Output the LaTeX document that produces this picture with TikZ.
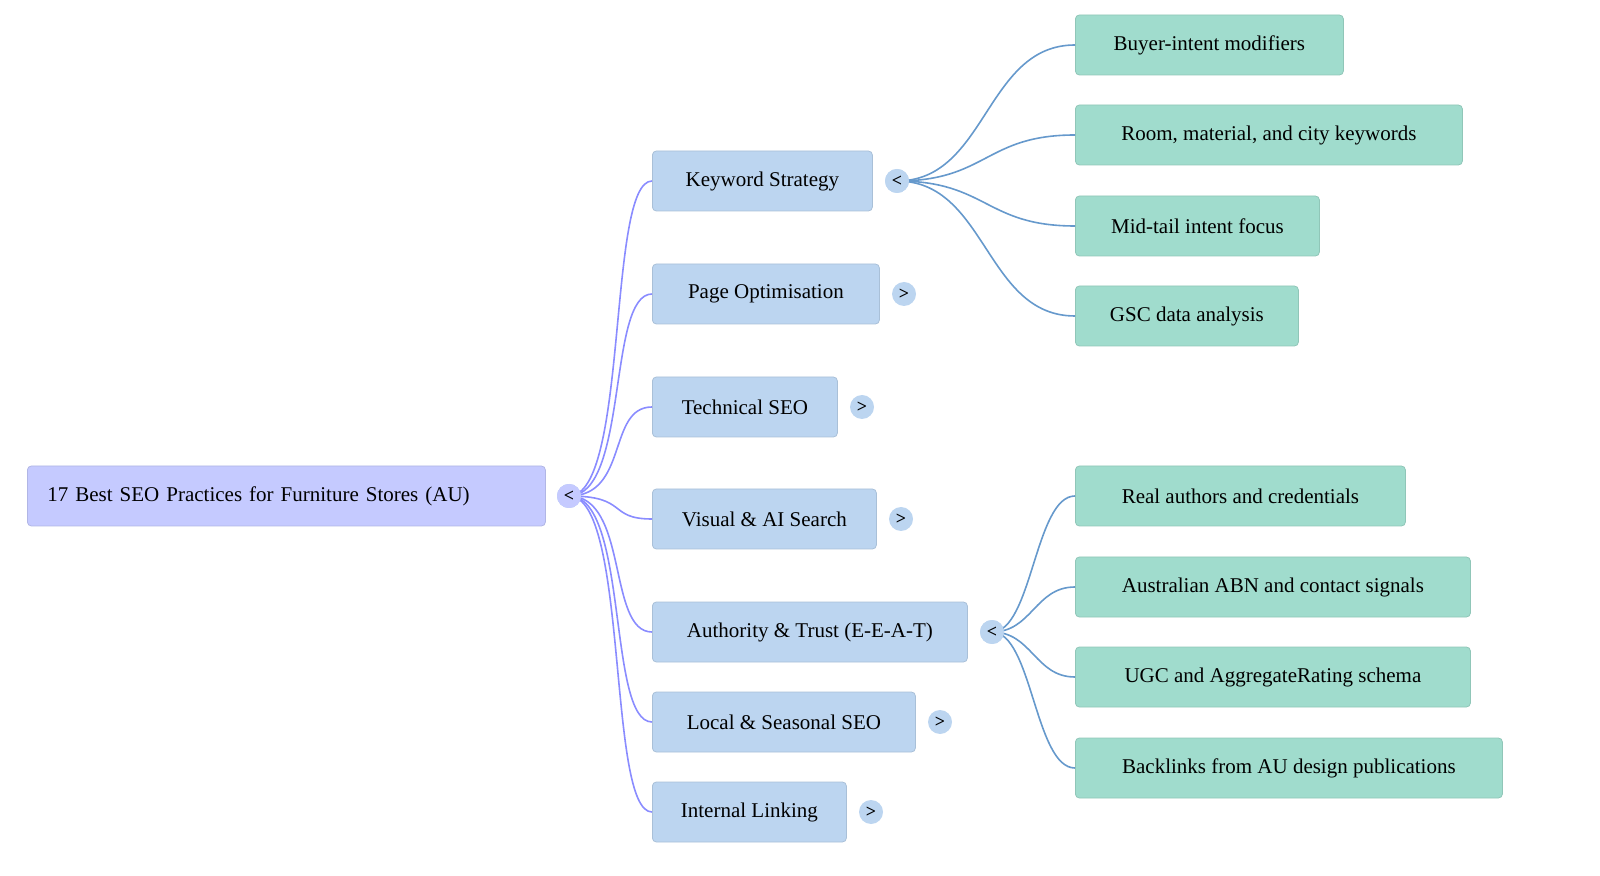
\documentclass[tikz,border=0pt]{standalone}
\usepackage{fontspec}
\setmainfont{Liberation Serif}
\usepackage{xcolor}
\usetikzlibrary{positioning}
\definecolor{rootfill}{HTML}{C5CAFF}
\definecolor{topicfill}{HTML}{BCD5F0}
\definecolor{leaffill}{HTML}{A0DCCD}
\definecolor{rootedge}{HTML}{8A8CFF}
\definecolor{leafedge}{HTML}{6699CC}

\begin{document}
\begin{tikzpicture}[
    x=0.5pt, y=-0.5pt,
    box/.style={rectangle, rounded corners=2pt, minimum height=30pt, inner xsep=10pt, anchor=west, align=left, font=\fontsize{10.5pt}{12pt}\selectfont},
    root/.style={box, fill=rootfill, draw=rootfill!90!black},
    topic/.style={box, fill=topicfill, draw=topicfill!90!black},
    leaf/.style={box, fill=leaffill, draw=leaffill!90!black},
    toggle/.style={circle, fill=topicfill, inner sep=0pt, minimum size=12pt, font=\fontsize{9pt}{9pt}\selectfont\bfseries},
    rootlink/.style={draw=rootedge, line width=0.8pt},
    leaflink/.style={draw=leafedge, line width=0.8pt}
]
\useasboundingbox (0,0) rectangle (1600,876);

% Root
\node[root, minimum width=259pt, text width=239pt] (rt) at (27,496) {17 Best SEO Practices for Furniture Stores (AU)};
\node[toggle, fill=rootfill] (rtt) at (569,496) {<};

% Topics
\node[topic, minimum width=110pt] (kw) at (652,181) {Keyword Strategy};
\node[toggle] (kwt) at (897,181) {<};
\node[topic, minimum width=113.5pt] (po) at (652,294) {Page Optimisation};
\node[toggle] (pot) at (904,294) {>};
\node[topic, minimum width=92.5pt] (ts) at (652,407) {Technical SEO};
\node[toggle] (tst) at (862,407) {>};
\node[topic, minimum width=112pt] (va) at (652,519) {Visual \& AI Search};
\node[toggle] (vat) at (901,519) {>};
\node[topic, minimum width=157.5pt] (at) at (652,632) {Authority \& Trust (E-E-A-T)};
\node[toggle] (att) at (992,632) {<};
\node[topic, minimum width=131.5pt] (ls) at (652,722) {Local \& Seasonal SEO};
\node[toggle] (lst) at (940,722) {>};
\node[topic, minimum width=97pt] (il) at (652,812) {Internal Linking};
\node[toggle] (ilt) at (871,812) {>};

% Keyword leaves
\node[leaf, minimum width=134pt] (k1) at (1075,45) {Buyer-intent modifiers};
\node[leaf, minimum width=193.5pt] (k2) at (1075,135) {Room, material, and city keywords};
\node[leaf, minimum width=122pt] (k3) at (1075,226) {Mid-tail intent focus};
\node[leaf, minimum width=111.5pt] (k4) at (1075,316) {GSC data analysis};

% Authority leaves
\node[leaf, minimum width=165pt] (a1) at (1075,496) {Real authors and credentials};
\node[leaf, minimum width=197.5pt] (a2) at (1075,587) {Australian ABN and contact signals};
\node[leaf, minimum width=197.5pt] (a3) at (1075,677) {UGC and AggregateRating schema};
\node[leaf, minimum width=213.5pt] (a4) at (1075,768) {Backlinks from AU design publications};

% Root links
\foreach \t in {kw,po,ts,va,at,ls,il}
  \draw[rootlink] (rtt.center) .. controls +(60,0) and +(-45,0) .. (\t.west);

% Leaf links
\foreach \l in {k1,k2,k3,k4}
  \draw[leaflink] (kwt.center) .. controls +(90,0) and +(-90,0) .. (\l.west);
\foreach \l in {a1,a2,a3,a4}
  \draw[leaflink] (att.center) .. controls +(40,0) and +(-40,0) .. (\l.west);

% Toggles on top
\foreach \t/\s in {rtt/<,kwt/<,att/<}
  \node[toggle] at (\t) {\s};
\node[toggle, fill=rootfill] at (rtt) {<};
\end{tikzpicture}
\end{document}
